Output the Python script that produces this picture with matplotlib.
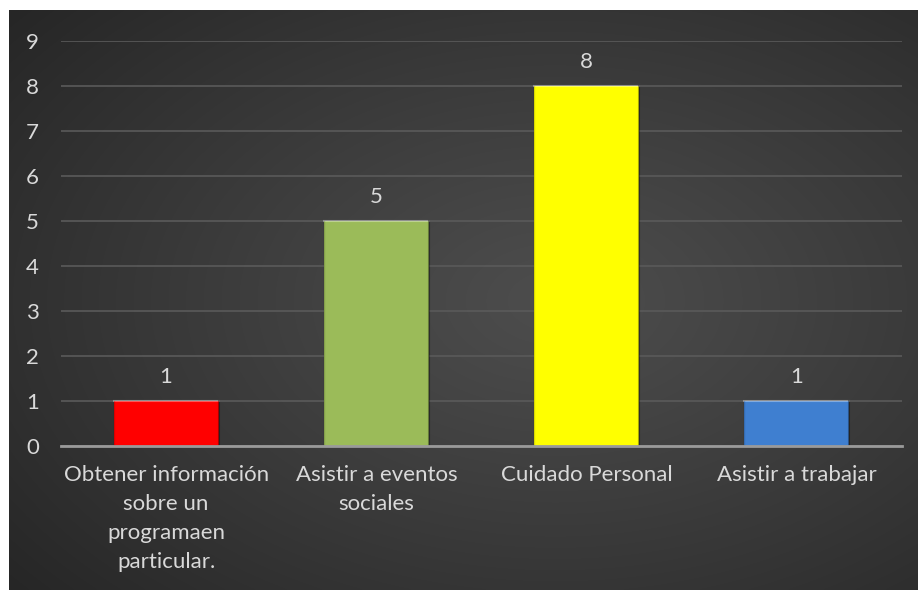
import numpy as np
import matplotlib
matplotlib.use("Agg")
import matplotlib.pyplot as plt

categories = ["Obtener información\nsobre un\nprogramaen\nparticular.",
              "Asistir a eventos\nsociales",
              "Cuidado Personal",
              "Asistir a trabajar"]
values = [1, 5, 8, 1]
colors = ["#FF0000", "#9BBB59", "#FFFF00", "#3F7FD0"]
yticks = list(range(0, 10))

plt.rcParams['font.family'] = ['Lato', 'DejaVu Sans']

fig = plt.figure(figsize=(9.18, 5.90), dpi=100)
fig.patch.set_facecolor("white")

# background with radial gradient
bg = fig.add_axes([9/918, 0, 909/918, 580/590])
bg.set_axis_off()
ny, nx = 290, 455
yy, xx = np.mgrid[0:ny, 0:nx]
cx, cy = nx * 0.6, ny * 0.5
r = np.sqrt(((xx - cx) / nx) ** 2 + ((yy - cy) / ny) ** 2)
r = r / r.max()
inner, outer = 0x4d / 255, 0x26 / 255
val = inner + (outer - inner) * np.clip(r, 0, 1) ** 1.1
img = np.dstack([val, val, val])
bg.imshow(img, aspect="auto", extent=[0, 1, 0, 1], interpolation="bilinear")
bg.set_xlim(0, 1); bg.set_ylim(0, 1)

ax = fig.add_axes([61/918, 1 - 445.7/590, (902 - 61)/918, (445.7 - 40.7)/590])
ax.patch.set_alpha(0)
x = np.arange(len(categories))
bars = ax.bar(x, values, width=0.5, color=colors, edgecolor="none", zorder=3)

# bevel-like shading derived from bar geometry
for b, c in zip(bars, colors):
    bx, by, bw, bh = b.get_x(), b.get_y(), b.get_width(), b.get_height()
    ax.plot([bx, bx + bw], [by + bh, by + bh], color="white", alpha=0.35, lw=1.5, zorder=4)
    ax.plot([bx + bw, bx + bw], [by, by + bh], color="black", alpha=0.35, lw=1.5, zorder=4)
    ax.plot([bx, bx], [by, by + bh], color="black", alpha=0.15, lw=1.0, zorder=4)

for xi, v in zip(x, values):
    ax.annotate(str(v), (xi, v), xytext=(0, 10), textcoords="offset points",
                ha="center", va="bottom", color="#D9D9D9", fontsize=16)

ax.set_xlim(-0.5, len(categories) - 0.5)
ax.set_ylim(0, 9)
ax.set_yticks(yticks)
ax.set_yticklabels([str(t) for t in yticks])
ax.set_xticks(x)
ax.set_xticklabels(categories, linespacing=1.55)
ax.tick_params(axis="both", length=0, colors="#D9D9D9", labelsize=16)
ax.tick_params(axis="y", pad=16)
ax.tick_params(axis="x", pad=14)
ax.grid(axis="y", color="#5a5a5a", lw=1.2, zorder=0)
ax.set_axisbelow(True)
for s in ["top", "right", "left"]:
    ax.spines[s].set_visible(False)
ax.spines["bottom"].set_color("#9a9a9a")
ax.spines["bottom"].set_linewidth(2)
ax.spines["bottom"].set_zorder(5)

fig.savefig("out.png", dpi=100, facecolor=fig.get_facecolor())
